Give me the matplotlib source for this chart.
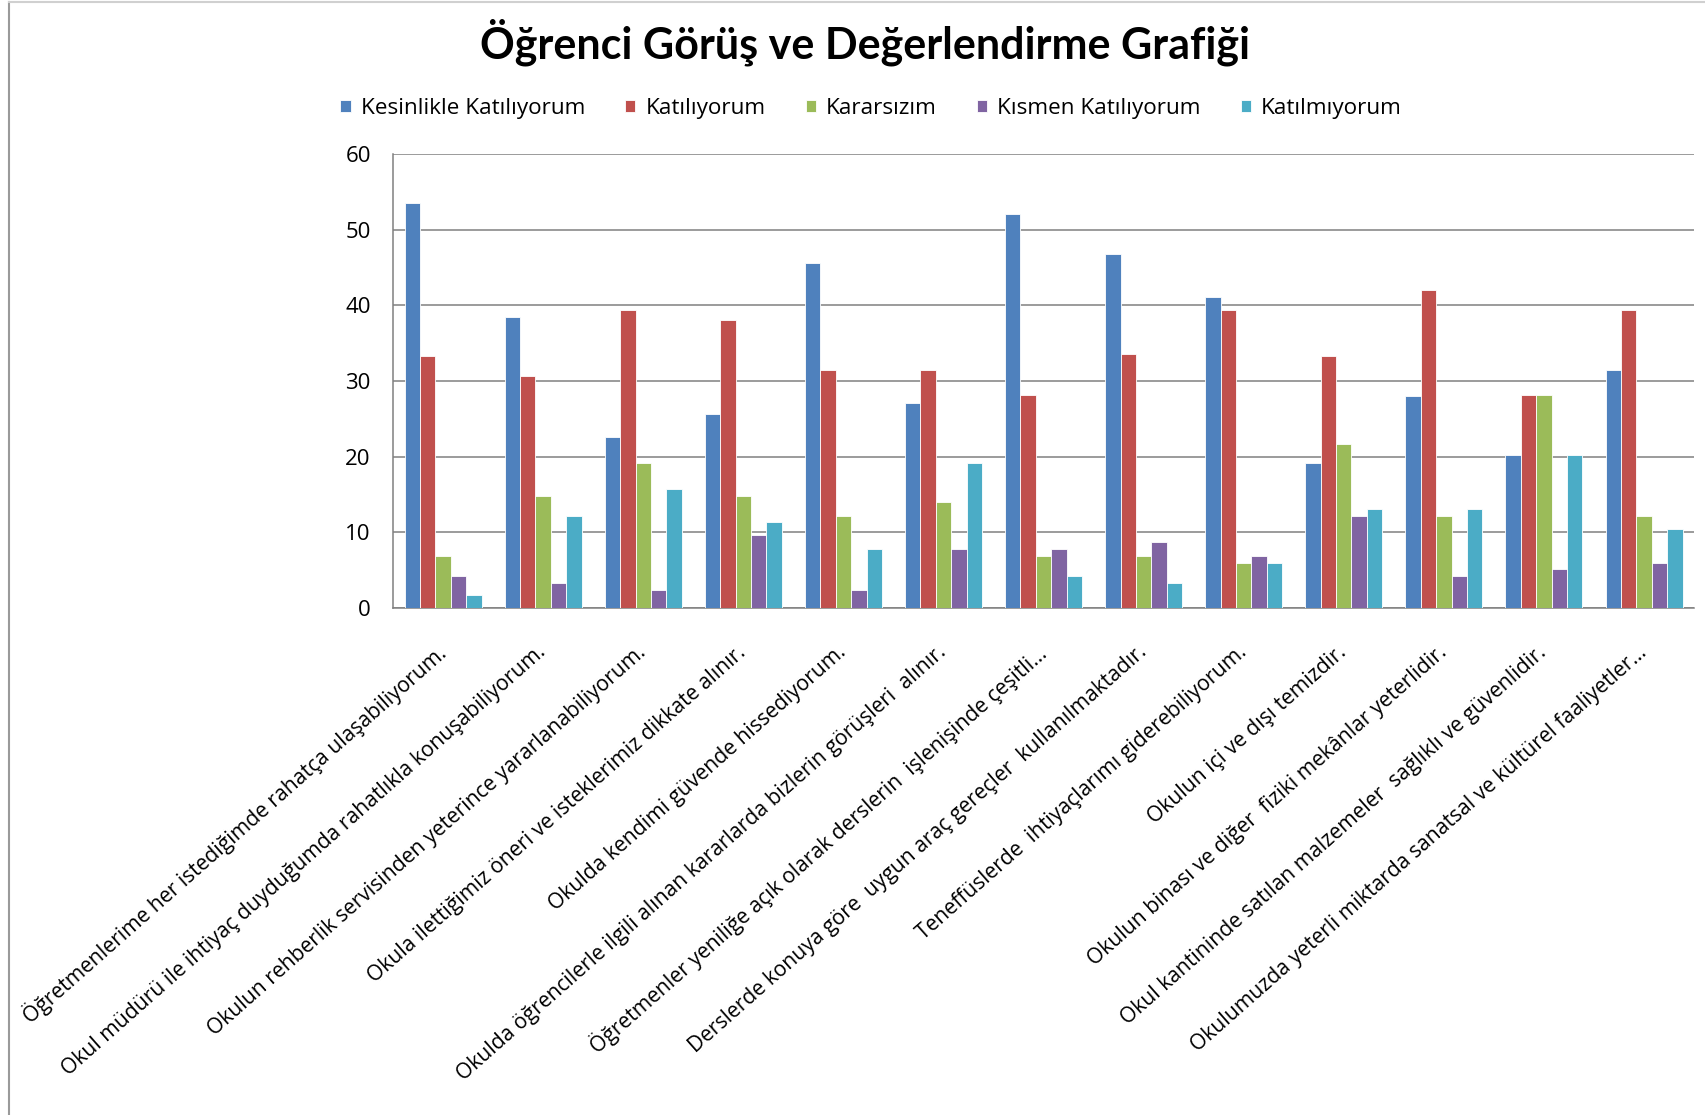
import matplotlib.pyplot as plt
import numpy as np
from matplotlib.lines import Line2D

plt.rcParams['font.family'] = ['Open Sans', 'DejaVu Sans']

# Soru metinleri (kategori etiketleri)
questions = [
    'Öğretmenlerime her istediğimde rahatça ulaşabiliyorum.',
    'Okul müdürü ile ihtiyaç duyduğumda rahatlıkla konuşabiliyorum.',
    'Okulun rehberlik servisinden yeterince yararlanabiliyorum.',
    'Okula ilettiğimiz öneri ve isteklerimiz dikkate alınır.',
    'Okulda kendimi güvende hissediyorum.',
    'Okulda öğrencilerle ilgili alınan kararlarda bizlerin görüşleri  alınır.',
    'Öğretmenler yeniliğe açık olarak derslerin  işlenişinde çeşitli...',
    'Derslerde konuya göre  uygun araç gereçler  kullanılmaktadır.',
    'Teneffüslerde  ihtiyaçlarımı giderebiliyorum.',
    'Okulun içi ve dışı temizdir.',
    'Okulun binası ve diğer  fiziki mekânlar yeterlidir.',
    'Okul kantininde satılan malzemeler  sağlıklı ve güvenlidir.',
    'Okulumuzda yeterli miktarda sanatsal ve kültürel faaliyetler...',
]

series_names = ['Kesinlikle Katılıyorum', 'Katılıyorum', 'Kararsızım',
                'Kısmen Katılıyorum', 'Katılmıyorum']

kesinlikle = [53.5, 38.5, 22.6, 25.6, 45.6, 27.1, 52.1, 46.8, 41.1, 19.2, 28.0, 20.2, 31.5]
katiliyorum = [33.3, 30.6, 39.4, 38.1, 31.5, 31.5, 28.2, 33.6, 39.4, 33.3, 42.0, 28.2, 39.4]
kararsizim = [6.9, 14.8, 19.2, 14.8, 12.1, 14.0, 6.9, 6.9, 6.0, 21.7, 12.1, 28.2, 12.1]
kismen = [4.2, 3.3, 2.4, 9.6, 2.4, 7.8, 7.8, 8.7, 6.9, 12.1, 4.2, 5.1, 6.0]
katilmiyorum = [1.7, 12.1, 15.7, 11.4, 7.8, 19.2, 4.2, 3.3, 6.0, 13.1, 13.1, 20.2, 10.4]

colors = ['#4F81BD', '#C0504D', '#9BBB59', '#8064A2', '#4BACC6']
data = [kesinlikle, katiliyorum, kararsizim, kismen, katilmiyorum]

fig = plt.figure(figsize=(17.06, 11.15), dpi=100)
ax = fig.add_axes([0.2304, 0.4547, 0.7626, 0.4072])

n = len(questions)
x = np.arange(n) + 0.5
w = 1 / 6.5
for i, (vals, col, name) in enumerate(zip(data, colors, series_names)):
    ax.bar(x + (i - 2) * w, vals, width=w, color=col, label=name,
           edgecolor='white', linewidth=0.6, zorder=3)

ax.set_xlim(0, n)
ax.set_ylim(0, 60)
ax.set_yticks(range(0, 61, 10))
ax.yaxis.grid(True, color='#808080', linewidth=1.1, zorder=0)
for s in ['top', 'right']:
    ax.spines[s].set_visible(False)
for s in ['left', 'bottom']:
    ax.spines[s].set_color('#808080')
    ax.spines[s].set_linewidth(1.1)
ax.tick_params(axis='y', length=0, pad=16, labelsize=16, colors='black')
ax.tick_params(axis='x', length=0, pad=30)
ax.set_xticks(x)
ax.set_xticklabels(questions, rotation=41.5, ha='right', va='center',
                   rotation_mode='anchor', fontsize=15.2)

fig.text(0.507, 0.962, 'Öğrenci Görüş ve Değerlendirme Grafiği',
         ha='center', va='center', fontsize=31, fontweight='bold',
         family=['Lato', 'DejaVu Sans'])

fig.legend(loc='center', bbox_to_anchor=(0.5106, 0.903), ncol=5,
           frameon=False, fontsize=16.2, handlelength=0.45, handleheight=0.45,
           handletextpad=0.45, columnspacing=1.78)

# ince gri çerçeve (sol ve üst)
fig.add_artist(Line2D([0.0053, 0.0053], [0, 0.998], color='#9a9a9a', lw=1.5))
fig.add_artist(Line2D([0.0053, 1], [0.998, 0.998], color='#d0d0d0', lw=1.5))

fig.savefig('out.png', dpi=100)
